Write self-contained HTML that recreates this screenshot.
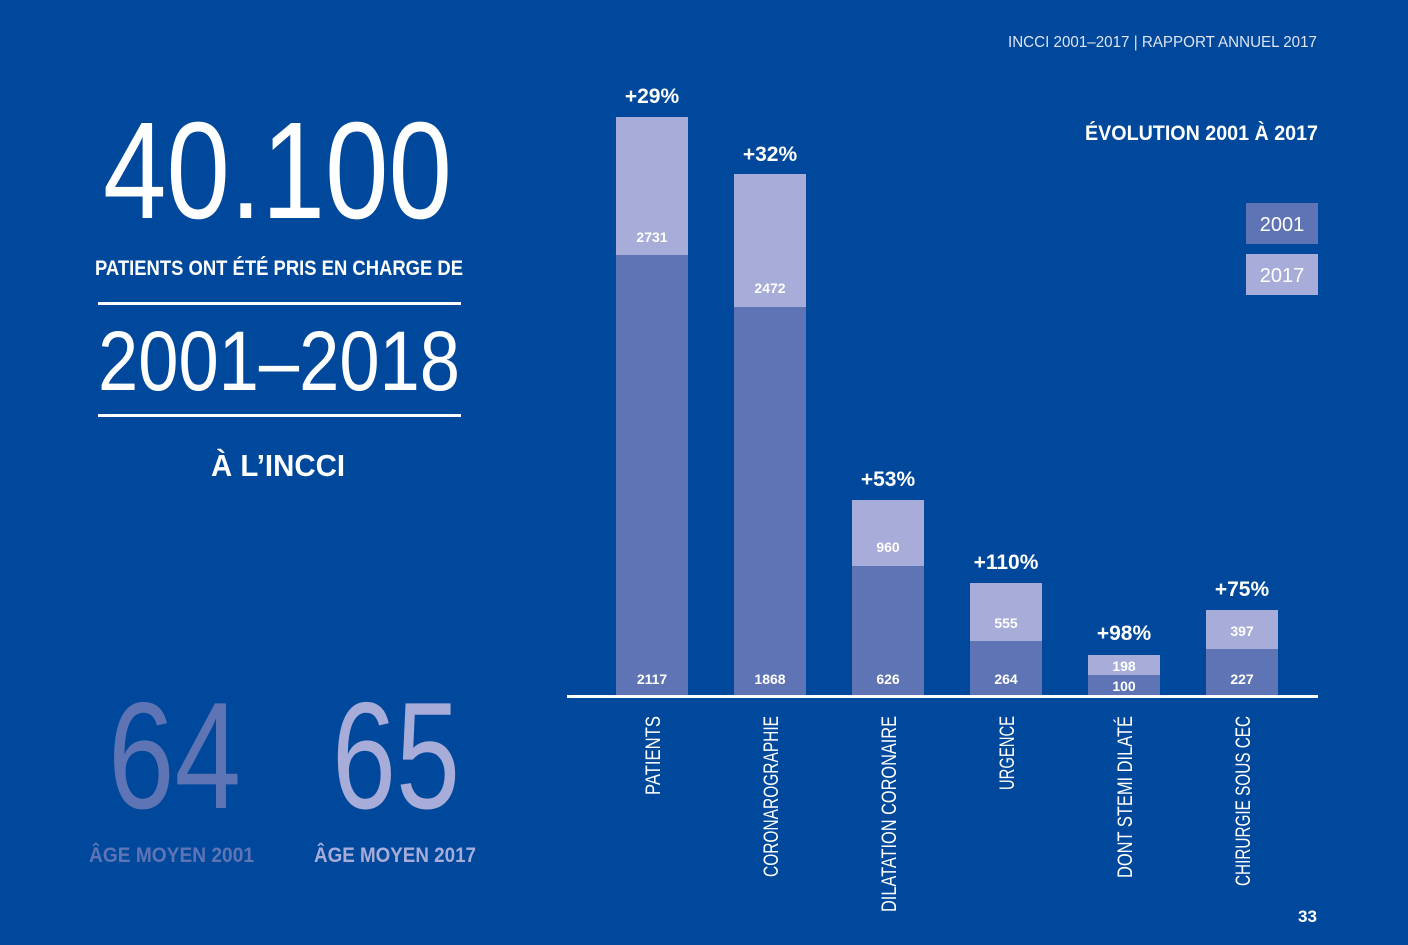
<!DOCTYPE html>
<html><head><meta charset="utf-8"><style>
html,body{margin:0;padding:0;background:#00489b;}
svg{display:block}
text{font-family:"Liberation Sans",sans-serif;}
</style></head><body>
<svg width="1408" height="945" viewBox="0 0 1408 945" xmlns="http://www.w3.org/2000/svg">
<rect width="1408" height="945" fill="#00489b"/>
<text x="1008" y="47" font-size="16" fill="#dfe3f3" textLength="309" lengthAdjust="spacingAndGlyphs">INCCI 2001–2017 | RAPPORT ANNUEL 2017</text>

<g fill="#fff">
<text x="103" y="218" font-size="138" textLength="349" lengthAdjust="spacingAndGlyphs">40.100</text>
<text x="95" y="275" font-size="21" font-weight="bold" textLength="368" lengthAdjust="spacingAndGlyphs">PATIENTS ONT ÉTÉ PRIS EN CHARGE DE</text>
<rect x="98" y="302" width="363" height="3"/>
<text x="98" y="390" font-size="84" textLength="362" lengthAdjust="spacingAndGlyphs">2001–2018</text>
<rect x="98" y="414" width="363" height="3"/>
<text x="211" y="476" font-size="31" font-weight="bold" textLength="134" lengthAdjust="spacingAndGlyphs">À L’INCCI</text>
</g>
<text x="108" y="808" font-size="152" fill="#5e74b5" textLength="133" lengthAdjust="spacingAndGlyphs">64</text>
<text x="332" y="808" font-size="152" fill="#a7acd9" textLength="128" lengthAdjust="spacingAndGlyphs">65</text>
<text x="89" y="862" font-size="21" font-weight="bold" fill="#5e74b5" textLength="165" lengthAdjust="spacingAndGlyphs">ÂGE MOYEN 2001</text>
<text x="314" y="862" font-size="21" font-weight="bold" fill="#a7acd9" textLength="162" lengthAdjust="spacingAndGlyphs">ÂGE MOYEN 2017</text>

<text x="1085" y="140" font-size="21" font-weight="bold" fill="#fff" textLength="233" lengthAdjust="spacingAndGlyphs">ÉVOLUTION 2001 À 2017</text>
<rect x="1246" y="203" width="72" height="41" fill="#5e74b5"/>
<rect x="1246" y="254" width="72" height="41" fill="#a7acd9"/>
<text x="1282" y="231" font-size="20" fill="#fff" text-anchor="middle">2001</text>
<text x="1282" y="282" font-size="20" fill="#fff" text-anchor="middle">2017</text>

<g>
<rect x="616" y="117" width="72" height="138" fill="#a7acd9"/><rect x="616" y="255" width="72" height="441" fill="#5e74b5"/>
<rect x="734" y="174" width="72" height="133" fill="#a7acd9"/><rect x="734" y="307" width="72" height="389" fill="#5e74b5"/>
<rect x="852" y="500" width="72" height="66" fill="#a7acd9"/><rect x="852" y="566" width="72" height="130" fill="#5e74b5"/>
<rect x="970" y="583" width="72" height="58" fill="#a7acd9"/><rect x="970" y="641" width="72" height="55" fill="#5e74b5"/>
<rect x="1088" y="655" width="72" height="20" fill="#a7acd9"/><rect x="1088" y="675" width="72" height="21" fill="#5e74b5"/>
<rect x="1206" y="610" width="72" height="39" fill="#a7acd9"/><rect x="1206" y="649" width="72" height="47" fill="#5e74b5"/>
</g>
<rect x="567" y="695" width="751" height="3" fill="#fff"/>

<g fill="#fff" font-size="14" text-anchor="middle" font-weight="bold">
<text x="652" y="242">2731</text><text x="652" y="684">2117</text>
<text x="770" y="293">2472</text><text x="770" y="684">1868</text>
<text x="888" y="552">960</text><text x="888" y="684">626</text>
<text x="1006" y="628">555</text><text x="1006" y="684">264</text>
<text x="1124" y="671">198</text><text x="1124" y="691">100</text>
<text x="1242" y="636">397</text><text x="1242" y="684">227</text>
</g>
<g fill="#fff" font-size="21" font-weight="bold" text-anchor="middle">
<text x="652" y="103">+29%</text>
<text x="770" y="161">+32%</text>
<text x="888" y="486">+53%</text>
<text x="1006" y="569">+110%</text>
<text x="1124" y="640">+98%</text>
<text x="1242" y="596">+75%</text>
</g>
<g fill="#fff" font-size="21" text-anchor="end">
<text transform="translate(660,716) rotate(-90)" textLength="79" lengthAdjust="spacingAndGlyphs">PATIENTS</text>
<text transform="translate(778,716) rotate(-90)" textLength="161" lengthAdjust="spacingAndGlyphs">CORONAROGRAPHIE</text>
<text transform="translate(896,716) rotate(-90)" textLength="196" lengthAdjust="spacingAndGlyphs">DILATATION CORONAIRE</text>
<text transform="translate(1014,716) rotate(-90)" textLength="74" lengthAdjust="spacingAndGlyphs">URGENCE</text>
<text transform="translate(1132,716) rotate(-90)" textLength="162" lengthAdjust="spacingAndGlyphs">DONT STEMI DILATÉ</text>
<text transform="translate(1250,716) rotate(-90)" textLength="170" lengthAdjust="spacingAndGlyphs">CHIRURGIE SOUS CEC</text>
</g>
<text x="1298" y="922" font-size="17" font-weight="bold" fill="#fff" textLength="19" lengthAdjust="spacingAndGlyphs">33</text>
</svg>
</body></html>
